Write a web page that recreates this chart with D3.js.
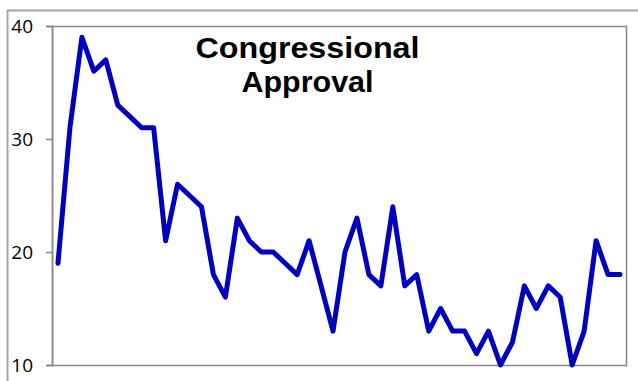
<!DOCTYPE html>
<html>
<head>
<meta charset="utf-8">
<script src="https://cdn.jsdelivr.net/npm/d3@7"></script>
<style>
  body { margin: 0; background: #fff; }
  svg { display: block; }
</style>
</head>
<body>
<div id="chart"></div>
<script>
// approval (%) by poll
var approval = [19, 31, 39, 36, 37, 33, 32, 31, 31, 21, 26, 25, 24, 18, 16, 23,
  21, 20, 20, 19, 18, 21, 17, 13, 20, 23, 18, 17, 24, 17, 18, 13,
  15, 13, 13, 11, 13, 10, 12, 17, 15, 17, 16, 10, 13, 21, 18, 18];
var yTicks = [10, 20, 30, 40];
var titleLines = ["Congressional", "Approval"];

var W = 638, H = 381;
var margin = {top: 26, right: 12, bottom: 16, left: 52},
    width = W - margin.left - margin.right,
    height = H - margin.top - margin.bottom;

var svg = d3.select("#chart")
  .append("svg")
    .attr("width", W)
    .attr("height", H);

// outer chart frame (runs off the picture on right and bottom)
svg.append("rect")
  .attr("x", 7.5).attr("y", 10.5)
  .attr("width", W + 20).attr("height", H + 20)
  .attr("fill", "#fff")
  .attr("stroke", "#a6a6a6")
  .attr("stroke-width", 2);

var g = svg.append("g")
  .attr("transform", "translate(" + margin.left + "," + margin.top + ")");

var x = d3.scaleBand()
  .domain(d3.range(approval.length))
  .range([0, width]);

var y = d3.scaleLinear()
  .domain([10, 40])
  .range([height, 0]);

// plot area box
g.append("rect")
  .attr("x", 0.5).attr("y", 0.5)
  .attr("width", width).attr("height", height)
  .attr("fill", "none")
  .attr("stroke", "#868686")
  .attr("stroke-width", 1.5);

var yAxisG = g.append("g")
  .call(d3.axisLeft(y).tickValues(yTicks).tickSize(6).tickPadding(13).tickFormat(d3.format("d")));
yAxisG.select(".domain").attr("stroke", "#868686").attr("stroke-width", 1.5);
yAxisG.selectAll(".tick line").attr("stroke", "#868686").attr("stroke-width", 1.5);
yAxisG.selectAll(".tick text")
  .attr("fill", "#000")
  .attr("font-family", "Open Sans")
  .attr("font-size", "19px");

var line = d3.line()
  .x(function (d, i) { return x(i) + x.bandwidth() / 2; })
  .y(function (d) { return y(d); });

g.append("path")
  .datum(approval)
  .attr("d", line)
  .attr("fill", "none")
  .attr("stroke", "#0000c0")
  .attr("stroke-width", 5)
  .attr("stroke-linejoin", "round")
  .attr("stroke-linecap", "round");

// title
var titleW = [224, 132];
svg.append("g").selectAll("text")
  .data(titleLines)
  .enter().append("text")
    .attr("x", 307.5)
    .attr("y", function (d, i) { return 58 + i * 34; })
    .attr("text-anchor", "middle")
    .attr("font-family", "Liberation Sans, Arial")
    .attr("font-weight", "bold")
    .attr("font-size", "29px")
    .attr("textLength", function (d, i) { return titleW[i]; })
    .attr("lengthAdjust", "spacingAndGlyphs")
    .attr("fill", "#000")
    .text(function (d) { return d; });
</script>
</body>
</html>
